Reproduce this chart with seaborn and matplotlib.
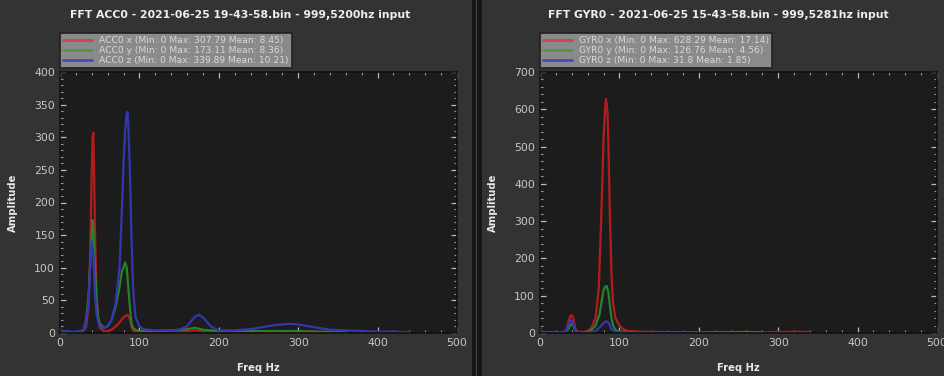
import numpy as np
import pandas as pd
import matplotlib
matplotlib.use("Agg")
import matplotlib.pyplot as plt
import seaborn as sns
from matplotlib.ticker import MultipleLocator
from matplotlib.patches import Rectangle

# ---------------- data ----------------
acc_x_f = [0,5,10,15,20,25,30,33,36,38,40,41,42,43,44,46,48,50,55,60,65,70,75,80,85,88,90,92,95,100,110,120,140,160,170,180,200,220,240,260,280,300,320,340]
acc_x_v = [1,1,1,1,1,2,4,10,40,120,250,300,307,240,160,60,20,8,3,3,5,10,16,24,28,22,10,4,2,2,2,2,3,3,4,3,2,2,2,2,2,2,2,1]

acc_y_f = [0,5,10,15,20,25,30,33,36,38,40,41,42,44,46,48,50,55,60,65,70,75,78,80,82,84,86,88,90,92,95,100,110,120,140,160,170,180,200,220,240,260,280,300,320,340,360]
acc_y_v = [1,1,1,1,1,2,5,20,60,105,150,173,160,100,50,25,15,8,10,20,40,70,95,100,108,100,70,40,15,8,5,3,3,3,4,6,8,5,3,3,3,3,3,3,2,2,1]

acc_z_f = [0,5,10,15,20,25,30,33,36,38,40,42,44,46,48,50,55,60,65,70,75,78,80,82,84,85,86,88,90,92,95,100,105,110,120,130,140,150,160,165,170,175,180,190,200,210,220,230,240,250,260,270,280,290,300,310,320,330,340,360,380,400,420,440]
acc_z_v = [3,3,3,2,2,3,5,15,50,100,140,120,60,30,18,10,8,10,20,45,100,190,260,310,335,339,320,250,150,70,25,10,6,5,4,4,4,5,10,18,25,28,24,10,4,4,4,5,6,8,10,12,13,14,13,11,9,7,5,4,3,2,2,1]

gyr_x_f = [0,5,10,15,20,25,30,33,36,38,40,42,44,46,50,55,60,65,70,74,77,80,82,83,84,85,86,88,90,92,95,100,105,110,120,130,140,160,180,200,220,240,260,280,300,320,340]
gyr_x_v = [2,2,2,1,1,1,2,8,30,45,48,40,15,5,3,3,5,15,40,120,300,520,600,628,615,590,520,320,160,80,40,20,10,6,4,3,3,2,2,1,3,1,3,1,3,3,3]

gyr_y_f = [0,5,10,20,30,35,38,40,42,44,46,50,55,60,65,70,75,78,80,82,84,86,88,90,92,95,100,110,120,140,160,180,200,220,240,260,280]
gyr_y_v = [2,2,1,1,2,8,20,25,20,8,3,2,2,3,8,20,50,90,115,124,126,110,75,40,20,8,4,2,2,1,1,1,1,1,2,3,2]

gyr_z_f = [0,5,10,20,30,34,37,40,42,44,46,50,55,60,65,70,75,80,82,84,86,88,90,95,100,110,120,140,160,185]
gyr_z_v = [1,1,1,1,2,10,30,35,25,8,3,2,1,1,2,5,15,26,30,31,28,20,10,4,2,1,1,1,1,1]

acc_labels = ["ACC0 x (Min: 0 Max: 307.79 Mean: 8.45)",
              "ACC0 y (Min: 0 Max: 173.11 Mean: 8.36)",
              "ACC0 z (Min: 0 Max: 339.89 Mean: 10.21)"]
gyr_labels = ["GYR0 x (Min: 0 Max: 628.29 Mean: 17.14)",
              "GYR0 y (Min: 0 Max: 126.76 Mean: 4.56)",
              "GYR0 z (Min: 0 Max: 31.8 Mean: 1.85)"]
titles = ["FFT ACC0 - 2021-06-25 19-43-58.bin - 999,5200hz input",
          "FFT GYR0 - 2021-06-25 15-43-58.bin - 999,5281hz input"]
x_ticks = [0, 100, 200, 300, 400, 500]
acc_y_ticks = [0, 50, 100, 150, 200, 250, 300, 350, 400]
gyr_y_ticks = [0, 100, 200, 300, 400, 500, 600, 700]

colors = ["#b41c1c", "#23822a", "#3535b0"]
legend_colors = ["#d04545", "#4a9a4a", "#4848c0"]

# ---------------- styling ----------------
sns.set_theme(style="dark")
plt.rcParams['font.family'] = ['DejaVu Sans']

W, H = 944, 376
fig = plt.figure(figsize=(W/100, H/100), dpi=100)
fig.patch.set_facecolor("#333333")

def fx(px): return px / W
def fy(py): return 1 - py / H

ax1 = fig.add_axes([fx(60), fy(333), fx(457) - fx(60), fy(72) - fy(333)])
ax2 = fig.add_axes([fx(540), fy(333), fx(937) - fx(540), fy(72) - fy(333)])

# divider between panels
fig.patches.append(Rectangle((fx(472), 0), fx(10), 1, transform=fig.transFigure,
                             facecolor="#151515", edgecolor="none", zorder=0))
fig.patches.append(Rectangle((fx(476), 0), fx(1.5), 1, transform=fig.transFigure,
                             facecolor="#4a4a4a", edgecolor="none", zorder=0))

panels = [
    (ax1, [(acc_x_f, acc_x_v), (acc_y_f, acc_y_v), (acc_z_f, acc_z_v)], acc_labels, acc_y_ticks, 400, 10, titles[0], 240, 60),
    (ax2, [(gyr_x_f, gyr_x_v), (gyr_y_f, gyr_y_v), (gyr_z_f, gyr_z_v)], gyr_labels, gyr_y_ticks, 700, 20, titles[1], 718, 540),
]

for ax, series, labels, yt, ymax, yminor, title, tx, lx in panels:
    ax.set_facecolor("#1c1c1c")
    for (f, v), lab, c in zip(series, labels, colors):
        df = pd.DataFrame({"f": f, "v": v})
        sns.lineplot(data=df, x="f", y="v", ax=ax, color=c, lw=1.6, label=lab,
                     sort=False, estimator=None)
    h, l = ax.get_legend_handles_labels()
    ax.get_legend().remove()
    leg = fig.legend(h, l, loc="lower left", bbox_to_anchor=(fx(lx), fy(68)),
                     bbox_transform=fig.transFigure, borderaxespad=0,
                     fontsize=6.6, labelspacing=0.12, handlelength=3.2,
                     handletextpad=0.8, borderpad=0.3, frameon=True, fancybox=False)
    leg.get_frame().set_facecolor("#8a8a8a")
    leg.get_frame().set_edgecolor("#202020")
    leg.get_frame().set_linewidth(1.2)
    leg.get_frame().set_alpha(1)
    for t in leg.get_texts():
        t.set_color("#d8d8d8")
    for lh, lc in zip(leg.get_lines(), legend_colors):
        lh.set_linewidth(2)
        lh.set_color(lc)

    ax.set_xlim(0, 500)
    ax.set_ylim(0, ymax)
    ax.set_xticks(x_ticks)
    ax.set_yticks(yt)
    ax.xaxis.set_minor_locator(MultipleLocator(20))
    ax.yaxis.set_minor_locator(MultipleLocator(yminor))
    ax.tick_params(axis="both", which="major", direction="in", length=4, width=0.9,
                   color="#bbbbbb", labelcolor="#c8c8c8", labelsize=7.8,
                   top=True, right=True, bottom=True, left=True)
    ax.tick_params(axis="both", which="minor", direction="in", length=2, width=0.8,
                   color="#999999", top=True, right=True, bottom=True, left=True)
    for s in ax.spines.values():
        s.set_color("#111111")
        s.set_linewidth(1.2)
        s.set_visible(True)
    ax.grid(False)
    ax.set_xlabel("Freq Hz", color="#e8e8e8", fontsize=7.2, fontweight="bold", labelpad=11)
    ax.set_ylabel("Amplitude", color="#e8e8e8", fontsize=7.2, fontweight="bold", labelpad=12)
    fig.text(fx(tx), fy(15), title, ha="center", va="center", color="#eeeeee",
             fontsize=7.8, fontweight="bold")

fig.savefig("out.png", dpi=100, facecolor=fig.get_facecolor())
